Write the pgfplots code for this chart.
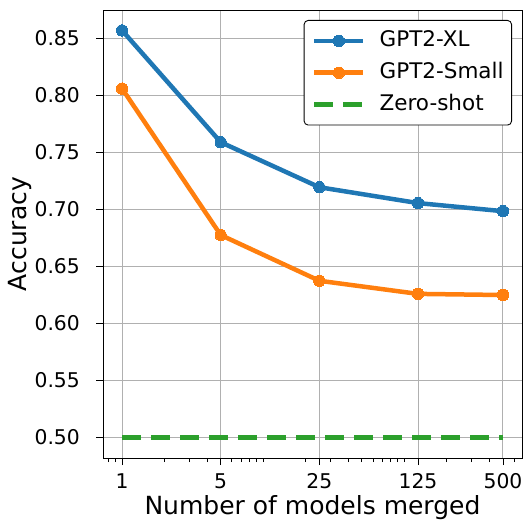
\documentclass[border=0pt]{standalone}
\usepackage{pgfplots}
\pgfplotsset{compat=1.18}
\usepackage{fontspec}
\setmainfont{DejaVu Sans}
\definecolor{tabblue}{HTML}{1F77B4}
\definecolor{taborange}{HTML}{FF7F0E}
\definecolor{tabgreen}{HTML}{2CA02C}
\begin{document}
\begin{tikzpicture}[x=1pt,y=1pt]
\useasboundingbox (-103pt,-65pt) rectangle (423pt,458pt);
\begin{axis}[
  at={(0,0)}, anchor=south west,
  scale only axis,
  width=419pt, height=448pt,
  xmode=log,
  xmin=0.733, xmax=682,
  ymin=0.4821, ymax=0.8749,
  xtick={1,5,25,125,500},
  xticklabels={1,5,25,125,500},
  minor xtick={0.8,0.9,2,3,4,6,7,8,9,10,20,30,40,50,60,70,80,90,100,200,300,400,600},
  ytick={0.50,0.55,0.60,0.65,0.70,0.75,0.80,0.85},
  yticklabel style={anchor=east, inner sep=0pt, xshift=-16pt, /pgf/number format/.cd,fixed,fixed zerofill,precision=2},
  xticklabel style={anchor=north, inner sep=0pt, yshift=-8pt},
  /pgf/number format/assume math mode=true,
  tick label style={font=\fontsize{20.3}{24}\selectfont},
  label style={font=\fontsize{25}{29}\selectfont},
  xlabel={Number of models merged},
  ylabel={Accuracy},
  xlabel style={at={(axis description cs:0.5,0)}, anchor=base, yshift=-56pt, inner sep=0pt},
  ylabel style={at={(axis description cs:0,0.5)}, anchor=center, yshift=83pt, inner sep=0pt},
  tick align=outside,
  major tick length=7pt,
  minor tick length=4pt,
  tick style={black, line width=0.8pt},
  xtick pos=bottom, ytick pos=left,
  xmajorgrids, ymajorgrids,
  grid style={color=black!31, line width=1pt},
  axis line style={line width=0.8pt},
  legend style={at={(1,1)}, xshift=-10pt, yshift=-10pt, anchor=north east,
    font=\fontsize{21.5}{25}\selectfont,
    draw=black, line width=0.9pt, rounded corners=4pt, inner xsep=8pt, inner ysep=10pt,
    nodes={text height=16pt, text depth=5pt, inner sep=0pt},
    row sep=10.8pt, column sep=14pt},
  legend cell align=left,
  legend image code/.code={
    \draw[#1, mark=none] (0pt,0pt) -- (49pt,0pt);
    \draw[#1, mark repeat=1] plot coordinates {(24.5pt,0pt)};
  },
]
\addplot[color=tabblue, line width=4.5pt, mark=*, mark size=5.7pt, mark options={solid, line width=0pt}]
  coordinates {(1,0.857) (5,0.759) (25,0.7195) (125,0.7056) (500,0.6985)};
\addlegendentry{GPT2-XL}
\addplot[color=taborange, line width=4.5pt, mark=*, mark size=5.7pt, mark options={solid, line width=0pt}]
  coordinates {(1,0.806) (5,0.6776) (25,0.6375) (125,0.626) (500,0.625)};
\addlegendentry{GPT2-Small}
\addplot[color=tabgreen, line width=4.5pt, dash pattern=on 19pt off 10pt]
  coordinates {(1,0.5) (500,0.5)};
\addlegendentry{Zero-shot}
\end{axis}
\end{tikzpicture}
\end{document}
